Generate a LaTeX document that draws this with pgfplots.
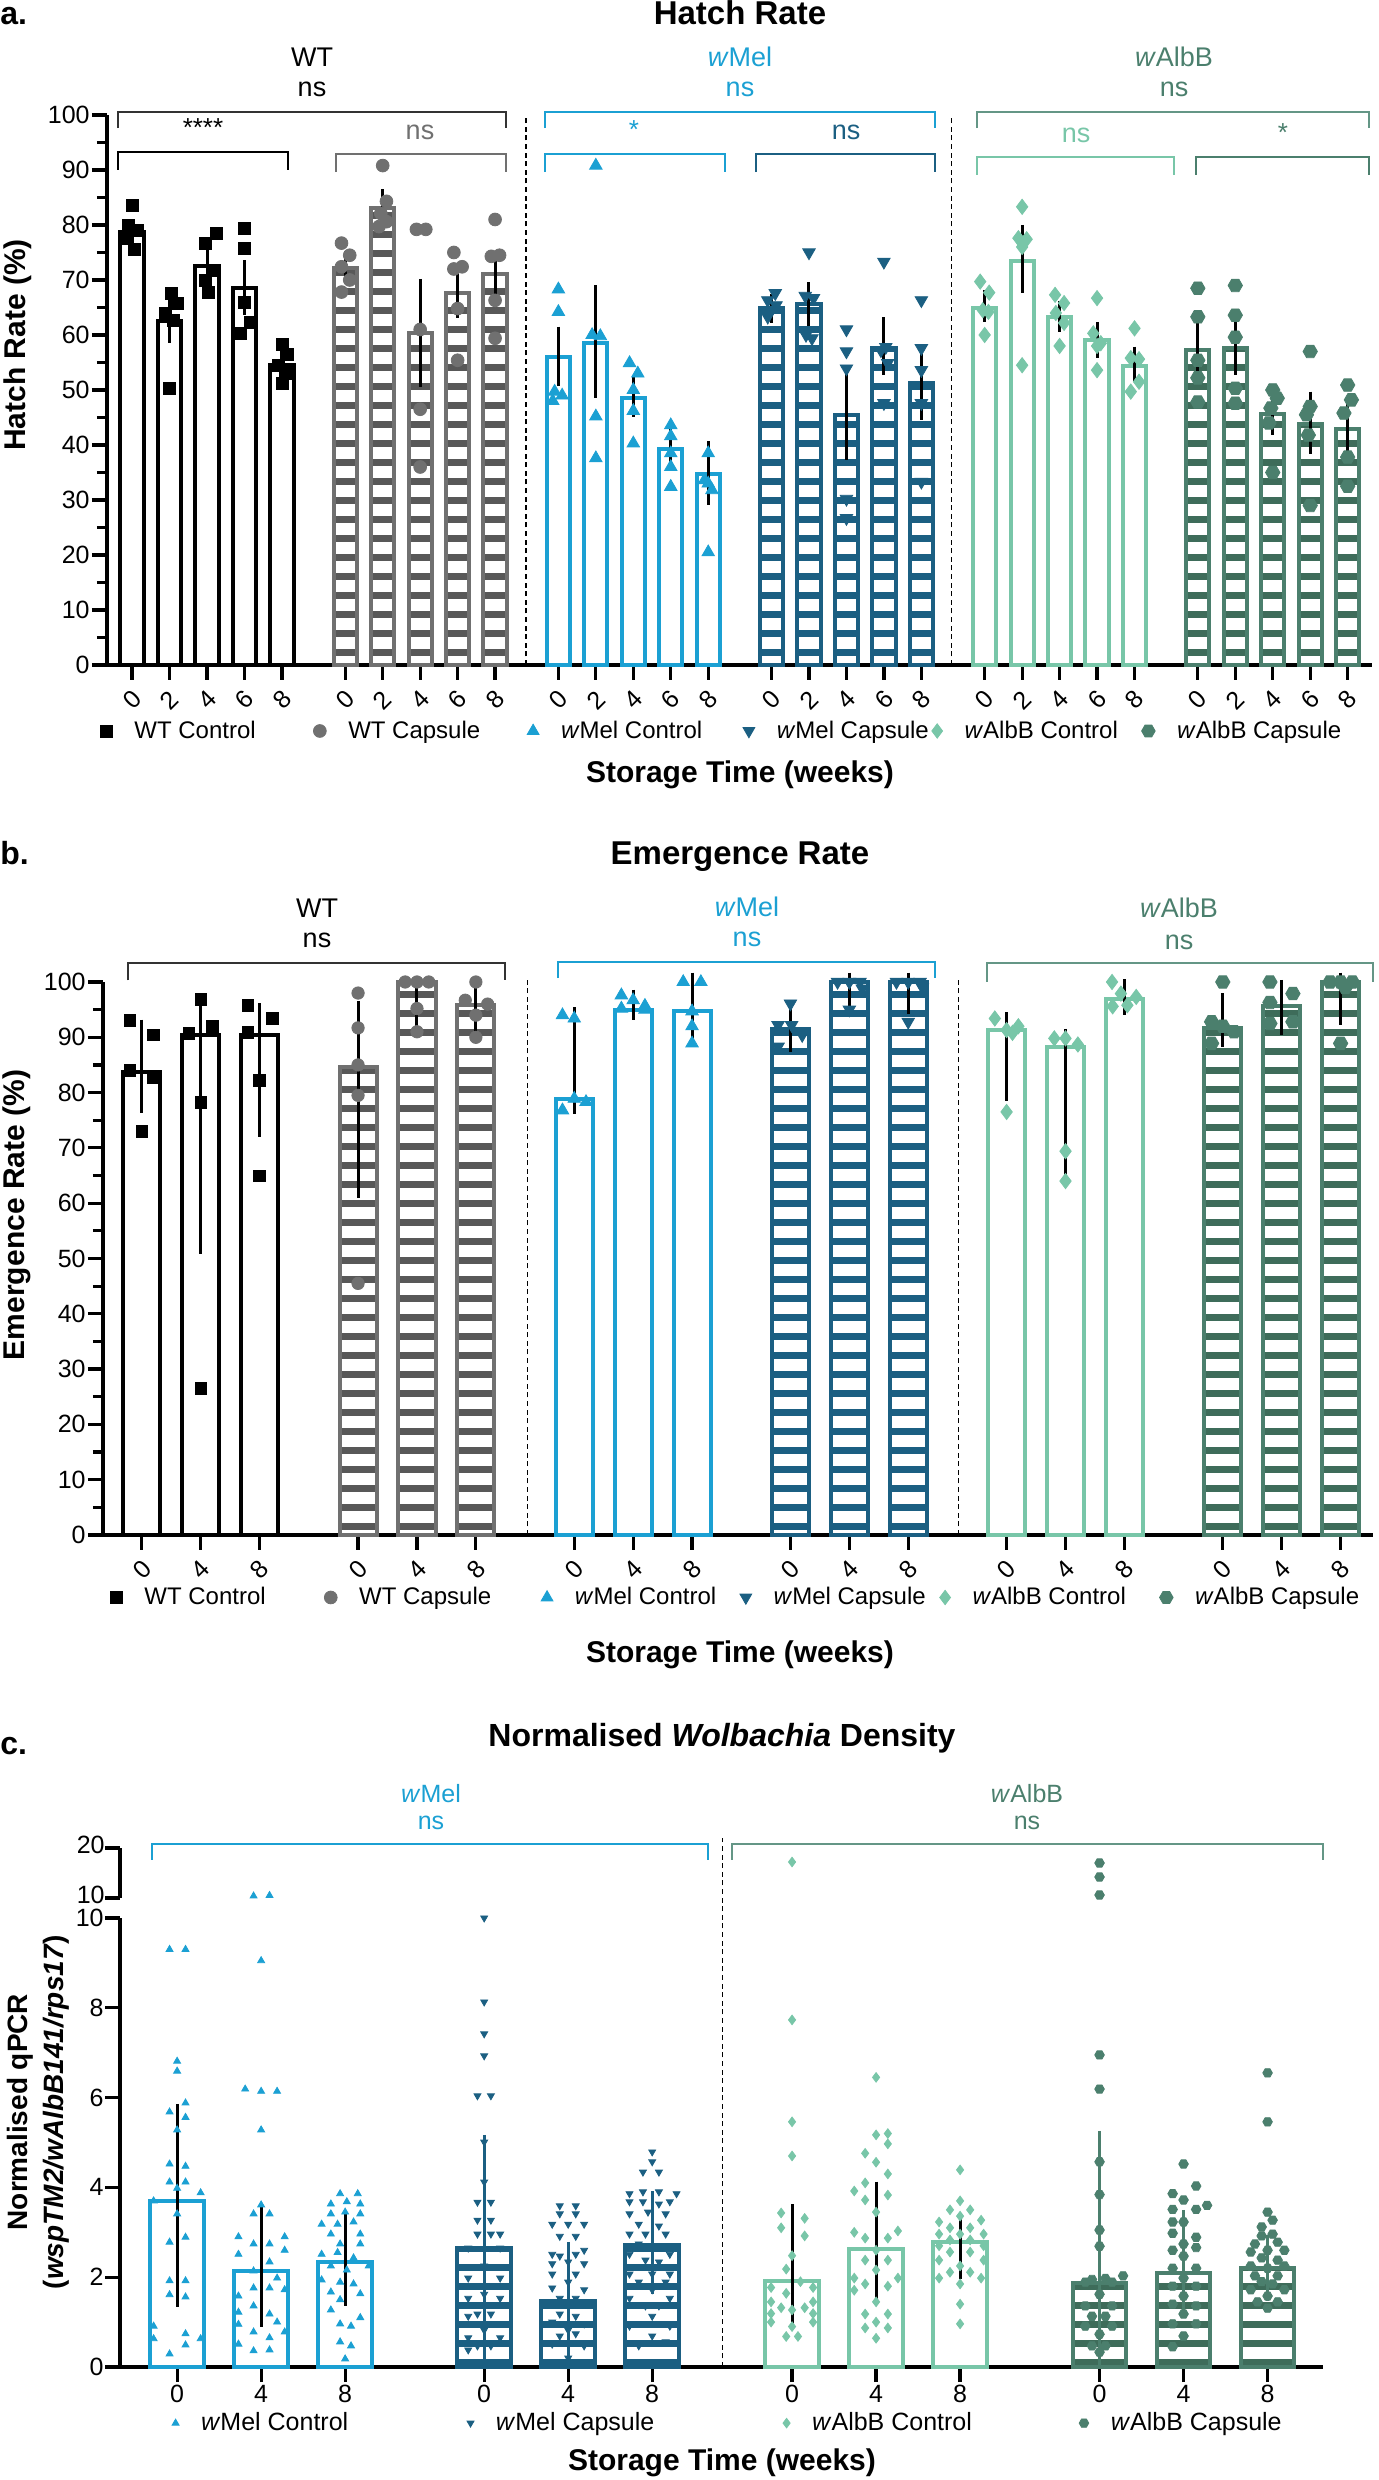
\documentclass[border=0pt]{standalone}
\usepackage{fontspec}
\setmainfont{Liberation Sans}
\usepackage{pgfplots}
\pgfplotsset{compat=1.18}
\usetikzlibrary{patterns}

\definecolor{wtcap}{RGB}{112,112,112}
\definecolor{wtcapd}{RGB}{88,88,88}
\definecolor{melc}{RGB}{27,160,211}
\definecolor{melcap}{RGB}{27,95,130}
\definecolor{albc}{RGB}{120,198,168}
\definecolor{albcap}{RGB}{75,127,109}
\definecolor{albcapd}{RGB}{62,108,90}
\definecolor{albtop}{RGB}{100,150,134}

\pgfdeclarepatternformonly{hstripes}{\pgfqpoint{-2pt}{0pt}}{\pgfqpoint{302pt}{9.5pt}}{\pgfqpoint{300pt}{9.5pt}}{%
  \pgfpathrectangle{\pgfqpoint{-2pt}{0pt}}{\pgfqpoint{304pt}{3.4pt}}%
  \pgfusepath{fill}}

\pgfdeclareplotmark{hexagon*}{%
  \pgfpathmoveto{\pgfqpointpolar{0}{\pgfplotmarksize}}%
  \pgfpathlineto{\pgfqpointpolar{60}{\pgfplotmarksize}}%
  \pgfpathlineto{\pgfqpointpolar{120}{\pgfplotmarksize}}%
  \pgfpathlineto{\pgfqpointpolar{180}{\pgfplotmarksize}}%
  \pgfpathlineto{\pgfqpointpolar{240}{\pgfplotmarksize}}%
  \pgfpathlineto{\pgfqpointpolar{300}{\pgfplotmarksize}}%
  \pgfpathclose
  \pgfusepathqfillstroke}

\newcommand{\fs}[1]{\fontsize{#1}{#1}\selectfont}
\newcommand{\w}{\textit{w}}

\pgfplotsset{
  gp/.style={
    scale only axis, anchor=south west, clip=false,
    axis x line=bottom, axis y line=left,
    axis line style={-, line width=2pt, black},
    tick align=outside,
    major tick length=7.5pt, minor tick length=5pt,
    tick style={line width=1.6pt, black},
    /pgf/number format/assume math mode=true,
    yticklabel style={font=\fs{12.5}, inner sep=1pt},
    xticklabel style={font=\fs{12.5}},
    legend style={draw=none, fill=none, inner sep=0pt, font=\fs{12}, legend columns=-1,
      nodes={inner sep=1pt}, /tikz/every odd column/.append style={column sep=10pt}},
    legend image code/.code={\draw[##1] plot coordinates {(0pt,0pt)};},
  },
  ctrlbar/.style={ybar, bar shift=0pt, forget plot, fill=white, draw=#1, line width=2pt},
  capbar/.style 2 args={ybar, bar shift=0pt, forget plot, fill=white, draw=#1, line width=2pt,
    postaction={pattern=hstripes, pattern color=#2}},
  pts/.style={only marks, forget plot, color=#1, mark options={solid, fill=#1, draw=#1}},
  errb/.style n args={3}{forget plot, draw=none, mark=none,
    error bars/y dir=both, error bars/y explicit,
    error bars/error bar style={draw=#1, line width=#2, solid},
    error bars/error mark options={draw=#1, line width=#2, mark size=#3, solid}},
}

\begin{document}
\begin{tikzpicture}
\path[use as bounding box] (0pt,0pt) rectangle (689pt,1240pt);

%================ PANEL A =================
\begin{axis}[gp, at={(53.5pt,907.5pt)}, width=632.5pt, height=275pt,
  xmin=-0.67, xmax=33.1, ymin=0, ymax=100,
  ytick={0,10,...,100}, minor y tick num=1,
  xtick={0,1,2,3,4,5.69,6.69,7.69,8.69,9.69,11.38,12.38,13.38,14.38,15.38,17.07,18.07,19.07,20.07,21.07,22.76,23.76,24.76,25.76,26.76,28.45,29.45,30.45,31.45,32.45},
  xticklabels={0,2,4,6,8,0,2,4,6,8,0,2,4,6,8,0,2,4,6,8,0,2,4,6,8,0,2,4,6,8},
  xticklabel style={yshift=-10pt, rotate=45, anchor=center},
  bar width=0.62,
  legend style={at={(-0.0055,-0.12)}, anchor=west},
]
\addplot[ctrlbar=black] coordinates {(0,78.7) (1,62.6) (2,72.6) (3,68.6) (4,54.5)};
\addplot[capbar={wtcap}{wtcapd}] coordinates {(5.69,72.2) (6.69,83.1) (7.69,60.3) (8.69,67.7) (9.69,71)};
\addplot[ctrlbar=melc] coordinates {(11.38,56) (12.38,58.5) (13.38,48.5) (14.38,39.2) (15.38,34.7)};
\addplot[capbar={melcap}{melcap}] coordinates {(17.07,64.9) (18.07,65.6) (19.07,45.5) (20.07,57.6) (21.07,51.2)};
\addplot[ctrlbar=albc] coordinates {(22.76,64.9) (23.76,73.5) (24.76,63.2) (25.76,59) (26.76,54.4)};
\addplot[capbar={albcap}{albcapd}] coordinates {(28.45,57.3) (29.45,57.6) (30.45,45.6) (31.45,43.8) (32.45,42.9)};

\addplot[pts=black, mark=square*, mark size=3pt] coordinates {
(0,83.5) (-0.1,80) (0.15,79) (-0.15,77.5) (0.05,75.5)
(1.05,67.6) (1.2,65.8) (0.9,64) (1.1,62.7) (1,50.3)
(2.25,78.5) (1.95,76.7) (2.15,71.8) (1.95,70) (2.05,67.8)
(3,79.4) (3,75.8) (3,66) (3.15,62.2) (2.9,60.3)
(4,58.2) (4.15,56.4) (3.9,54.5) (4.1,53) (4,51.2)};
\addplot[pts=wtcap, mark=*, mark size=3.2pt] coordinates {
(5.59,76.7) (5.81,74.5) (5.59,72.4) (5.81,70) (5.59,67.8)
(6.69,90.8) (6.79,84.3) (6.64,82.1) (6.79,80.6) (6.59,79.7)
(7.59,79.2) (7.84,79.2) (7.69,61) (7.69,46.5) (7.69,36)
(8.59,75) (8.81,72.4) (8.59,72) (8.69,64.8) (8.69,55.4)
(9.69,81) (9.81,74.5) (9.59,74.3) (9.69,66.3) (9.69,59.4)};
\addplot[pts=melc, mark=triangle*, mark size=3.6pt] coordinates {
(11.38,68.3) (11.38,64.2) (11.28,49.7) (11.48,49) (11.23,48)
(12.38,90.8) (12.28,60) (12.5,59.8) (12.38,45.2) (12.38,37.6)
(13.28,54.9) (13.5,53) (13.38,50) (13.38,46.2) (13.38,40.3)
(14.38,43.6) (14.38,41.6) (14.38,38.5) (14.38,36) (14.38,32.4)
(15.38,38.5) (15.28,33.6) (15.48,31.8) (15.38,33) (15.38,20.5)};
\addplot[pts=melcap, mark=triangle*, mark size=3.6pt, mark options={rotate=180}] coordinates {
(17.17,67.6) (16.97,66.3) (17.19,65.4) (17.02,64.5) (16.97,63.3)
(18.07,75) (17.97,67.1) (18.19,66.7) (17.99,60) (18.15,59.4)
(19.07,61) (19.07,57) (19.07,53.9) (19.07,30.2) (19.07,26.7)
(20.07,73.3) (20.12,57.8) (19.99,57.2) (20.17,54.9) (20.07,47.6)
(21.07,66.3) (21.07,57.6) (21.07,53.6) (21.07,47.6) (21.07,33.3)};
\addplot[pts=albc, mark=diamond*, mark size=3.8pt] coordinates {
(22.64,69.7) (22.88,67.7) (22.71,64.5) (22.86,64.2) (22.76,60)
(23.76,83.3) (23.66,77.6) (23.88,77.4) (23.76,76) (23.76,54.5)
(24.64,67.3) (24.88,65.8) (24.66,64) (24.88,62.2) (24.76,58)
(25.76,66.7) (25.66,60.3) (25.86,58.5) (25.76,58) (25.76,53.6)
(26.76,61.2) (26.66,55.8) (26.88,55.6) (26.88,51.5) (26.66,49.7)};
\addplot[pts=albcap, mark=hexagon*, mark size=3.6pt] coordinates {
(28.45,68.5) (28.45,63.3) (28.45,55.4) (28.45,52.2) (28.45,47.8)
(29.45,69) (29.45,63.6) (29.45,59.6) (29.45,50.3) (29.45,47.6)
(30.45,50) (30.57,48.5) (30.4,46.7) (30.35,44) (30.45,35)
(31.45,57) (31.45,47) (31.35,45.5) (31.4,41.8) (31.45,29)
(32.45,50.9) (32.55,48.2) (32.35,45.8) (32.45,37.8) (32.45,32.5)};

\addplot[errb={black}{1.5pt}{3.3pt}] table[x=x, y=lo, y error plus=d, y error minus=z, row sep=\\] {
x lo d z\\
0 77.4 2.4 0\\ 1 59.7 5.8 0\\ 2 70.4 4.5 0\\ 3 64.8 7.6 0\\ 4 52.6 3.9 0\\
5.69 70.4 3.6 0\\ 6.69 80.9 4.4 0\\ 7.69 51.8 17.2 0\\ 8.69 64.2 7.0 0\\ 9.69 68.4 5.2 0\\
11.38 52 8.3 0\\ 12.38 49.7 18.1 0\\ 13.38 46.2 5.0 0\\ 14.38 37.1 5.1 0\\ 15.38 30.2 9.3 0\\
17.07 63.3 3.0 0\\ 18.07 62.9 5.5 0\\ 19.07 38.5 14.2 0\\ 20.07 54 8.0 0\\ 21.07 45.8 11.2 0\\
22.76 63.6 3.3 0\\ 23.76 68.8 10.0 0\\ 24.76 61.8 3.2 0\\ 25.76 57 4.2 0\\ 26.76 52.7 4.0 0\\
28.45 54 7.2 0\\ 29.45 54 8.0 0\\ 30.45 43.1 5.7 0\\ 31.45 39.5 9.0 0\\ 32.45 40 6.4 0\\
};

\draw[dash pattern=on 2.5pt off 1.8pt, line width=0.7pt] (axis cs:10.52,0) -- (axis cs:10.52,100);
\draw[dash pattern=on 2.5pt off 1.8pt, line width=0.7pt] (axis cs:21.87,0) -- (axis cs:21.87,100);

\draw[line width=1pt, black!80] (axis cs:-0.37,97.6) -- (axis cs:-0.37,100.5) -- (axis cs:9.99,100.5) -- (axis cs:9.99,97.6);
\draw[line width=1pt, black] (axis cs:-0.37,90) -- (axis cs:-0.37,93.2) -- (axis cs:4.16,93.2) -- (axis cs:4.16,90);
\draw[line width=1pt, wtcap] (axis cs:5.43,89.6) -- (axis cs:5.43,92.9) -- (axis cs:9.99,92.9) -- (axis cs:9.99,89.6);
\draw[line width=1pt, melc] (axis cs:11.03,97.6) -- (axis cs:11.03,100.5) -- (axis cs:21.44,100.5) -- (axis cs:21.44,97.6);
\draw[line width=1pt, melc] (axis cs:11.03,89.6) -- (axis cs:11.03,92.9) -- (axis cs:15.83,92.9) -- (axis cs:15.83,89.6);
\draw[line width=1pt, melcap] (axis cs:16.66,89.6) -- (axis cs:16.66,92.9) -- (axis cs:21.44,92.9) -- (axis cs:21.44,89.6);
\draw[line width=1pt, albtop] (axis cs:22.56,97.6) -- (axis cs:22.56,100.5) -- (axis cs:33.03,100.5) -- (axis cs:33.03,97.6);
\draw[line width=1pt, albc] (axis cs:22.56,89.1) -- (axis cs:22.56,92.4) -- (axis cs:27.82,92.4) -- (axis cs:27.82,89.1);
\draw[line width=1pt, albcap] (axis cs:28.41,89.1) -- (axis cs:28.41,92.4) -- (axis cs:33.03,92.4) -- (axis cs:33.03,89.1);

\addlegendimage{black, mark=square*, mark size=3pt}
\addlegendentry{\makebox[88.5pt][l]{WT Control}}
\addlegendimage{wtcap, mark=*, mark size=3.2pt}
\addlegendentry{\makebox[88.5pt][l]{WT Capsule}}
\addlegendimage{melc, mark=triangle*, mark size=3.4pt}
\addlegendentry{\makebox[90pt][l]{\w Mel Control}}
\addlegendimage{melcap, mark=triangle*, mark size=3.4pt, mark options={rotate=180}}
\addlegendentry{\makebox[76.5pt][l]{\w Mel Capsule}}
\addlegendimage{albc, mark=diamond*, mark size=3.6pt}
\addlegendentry{\makebox[87.5pt][l]{\w AlbB Control}}
\addlegendimage{albcap, mark=hexagon*, mark size=3.4pt}
\addlegendentry{\w AlbB Capsule}
\end{axis}

%================ PANEL B =================
\begin{axis}[gp, at={(51.5pt,472.5pt)}, width=635pt, height=276.5pt,
  xmin=-0.66, xmax=20.9, ymin=0, ymax=100,
  ytick={0,10,...,100}, minor y tick num=1,
  xtick={0,1,2,3.67,4.67,5.67,7.34,8.34,9.34,11.01,12.01,13.01,14.68,15.68,16.68,18.35,19.35,20.35},
  xticklabels={0,4,8,0,4,8,0,4,8,0,4,8,0,4,8,0,4,8},
  xticklabel style={yshift=-10pt, rotate=45, anchor=center},
  bar width=0.63,
  legend style={at={(0.0055,-0.113)}, anchor=west},
]
\addplot[ctrlbar=black] coordinates {(0,83.7) (1,90.5) (2,90.5)};
\addplot[capbar={wtcap}{wtcapd}] coordinates {(3.67,84.6) (4.67,100) (5.67,95.8)};
\addplot[ctrlbar=melc] coordinates {(7.34,78.9) (8.34,95) (9.34,94.7)};
\addplot[capbar={melcap}{melcap}] coordinates {(11.01,91.5) (12.01,100) (13.01,100)};
\addplot[ctrlbar=albc] coordinates {(14.68,91.3) (15.68,88.3) (16.68,96.9)};
\addplot[capbar={albcap}{albcapd}] coordinates {(18.35,91.7) (19.35,95.7) (20.35,100)};

\addplot[pts=black, mark=square*, mark size=2.9pt] coordinates {
(-0.2,93.1) (0.2,90.4) (-0.2,84) (0.2,82.8) (0,73)
(1,96.8) (0.8,90.7) (1.2,92) (1,78.2) (1,26.5)
(1.8,95.8) (2.22,93.4) (1.8,90.9) (2,82.2) (2,64.9)};
\addplot[pts=wtcap, mark=*, mark size=3.1pt] coordinates {
(3.67,98) (3.67,91.7) (3.67,85) (3.67,79.5) (3.67,45.5)
(4.47,100) (4.67,100) (4.87,100) (4.67,95.2) (4.67,91)
(5.67,100) (5.49,96.7) (5.87,96) (5.67,94) (5.67,90)};
\addplot[pts=melc, mark=triangle*, mark size=3.6pt] coordinates {
(7.14,94) (7.34,93.4) (7.34,78.9) (7.54,78.3) (7.14,76.8)
(8.14,97.6) (8.34,96.7) (8.54,95.7) (8.14,95.2) (8.54,95.0)
(9.19,100) (9.49,100) (9.34,94.7) (9.34,92) (9.34,88.9)};
\addplot[pts=melcap, mark=triangle*, mark size=3.6pt, mark options={rotate=180}] coordinates {
(11.01,96.1) (10.8,92.2) (11.03,92.2) (11.21,90.4) (10.8,88.3)
(11.81,100) (12.01,100) (12.19,100) (12.23,98.8) (12.01,95)
(12.81,100) (13.01,100) (13.21,100) (13.25,99) (13.01,92.8)};
\addplot[pts=albc, mark=diamond*, mark size=3.8pt] coordinates {
(14.48,93.4) (14.88,92.0) (14.68,91.3) (14.78,90.8) (14.68,76.5)
(15.49,89.8) (15.68,89.8) (15.89,88.7) (15.68,69.4) (15.68,64)
(16.47,100) (16.62,97.9) (16.88,97.3) (16.73,95.8) (16.48,95.6)};
\addplot[pts=albcap, mark=hexagon*, mark size=3.6pt] coordinates {
(18.35,100) (18.16,92.8) (18.35,92) (18.54,91) (18.16,88.9)
(19.15,100) (19.54,97.9) (19.15,96.3) (19.54,92.8) (19.15,92.5)
(20.17,100) (20.35,100) (20.55,100) (20.43,99) (20.35,88.9)};

\addplot[errb={black}{1.5pt}{4.7pt}] table[x=x, y=lo, y error plus=d, y error minus=z, row sep=\\] {
x lo d z\\
0 78 13.5 0\\ 1 52.5 42 0\\ 2 73.6 20.9 0\\
3.67 62.7 32.2 0\\ 4.67 93 6.1 0\\ 5.67 91.9 6.5 0\\
7.34 77.9 15.8 0\\ 8.34 94.8 2.1 0\\ 9.34 90.5 9.5 0\\
11.01 89.1 4.7 0\\ 12.01 96.6 3.4 0\\ 13.01 96 4 0\\
14.68 80.1 12.7 0\\ 15.68 66.7 23.1 0\\ 16.68 95.8 3 0\\
18.35 90 6.3 0\\ 19.35 92.2 6.5 0\\ 20.35 94 6 0\\
};

\draw[dash pattern=on 2.5pt off 1.8pt, line width=0.7pt] (axis cs:6.55,0) -- (axis cs:6.55,100.7);
\draw[dash pattern=on 2.5pt off 1.8pt, line width=0.7pt] (axis cs:13.86,0) -- (axis cs:13.86,100.7);
\draw[line width=1pt, black!80] (axis cs:-0.24,100.3) -- (axis cs:-0.24,103.4) -- (axis cs:6.16,103.4) -- (axis cs:6.16,100.3);
\draw[line width=1pt, melc] (axis cs:7.06,100.7) -- (axis cs:7.06,103.7) -- (axis cs:13.47,103.7) -- (axis cs:13.47,100.7);
\draw[line width=1pt, albtop] (axis cs:14.35,100) -- (axis cs:14.35,103.4) -- (axis cs:20.9,103.4) -- (axis cs:20.9,100);

\addlegendimage{black, mark=square*, mark size=3pt}
\addlegendentry{\makebox[89pt][l]{WT Control}}
\addlegendimage{wtcap, mark=*, mark size=3.2pt}
\addlegendentry{\makebox[90pt][l]{WT Capsule}}
\addlegendimage{melc, mark=triangle*, mark size=3.4pt}
\addlegendentry{\makebox[81.5pt][l]{\w Mel Control}}
\addlegendimage{melcap, mark=triangle*, mark size=3.4pt, mark options={rotate=180}}
\addlegendentry{\makebox[82pt][l]{\w Mel Capsule}}
\addlegendimage{albc, mark=diamond*, mark size=3.6pt}
\addlegendentry{\makebox[92.5pt][l]{\w AlbB Control}}
\addlegendimage{albcap, mark=hexagon*, mark size=3.4pt}
\addlegendentry{\w AlbB Capsule}
\end{axis}

%================ PANEL C (lower) =================
\begin{axis}[gp, at={(60pt,56.5pt)}, width=601.5pt, height=224.5pt,
  xmin=-0.68, xmax=13.64, ymin=0, ymax=10,
  ytick={0,2,4,6,8,10},
  yticklabel style={inner sep=0.5pt},
  xtick={0,1,2,3.655,4.655,5.655,7.32,8.32,9.32,10.98,11.98,12.98},
  xticklabels={0,4,8,0,4,8,0,4,8,0,4,8},
  xticklabel style={anchor=north, inner sep=0pt, yshift=-1.5pt},
  bar width=0.64,
  legend style={at={(0.043,-0.125)}, anchor=west, font=\fs{12.5}},
]
\addplot[ctrlbar=melc] coordinates {(0,3.7) (1,2.14) (2,2.34)};
\addplot[capbar={melcap}{melcap}] coordinates {(3.655,2.65) (4.655,1.47) (5.655,2.72)};
\addplot[ctrlbar=albc] coordinates {(7.32,1.91) (8.32,2.62) (9.32,2.78)};
\addplot[capbar={albcap}{albcapd}] coordinates {(10.98,1.88) (11.98,2.1) (12.98,2.2)};

\addplot[pts=melc, mark=triangle*, mark size=2pt] coordinates {
(-0.09,9.3) (0.1,9.3) (0,6.81) (0,6.59) (0.1,5.88) (-0.09,5.68) (0.1,5.56) (0,5.28)
(-0.09,4.52) (0.1,4.47) (-0.09,4.12) (0.1,4.12) (0,3.98) (0.28,3.88) (-0.28,3.7) (0,3.41)
(0.1,2.89) (-0.09,2.78) (-0.09,1.92) (0.1,1.92) (-0.09,1.61) (0.1,1.56) (-0.28,0.91)
(-0.28,0.63) (0.28,0.63) (0.1,0.74) (0.1,0.49) (-0.09,0.29)
(1,9.05) (0.81,6.19) (1,6.14) (1.19,6.14) (1,5.28) (1,3.61) (0.91,3.41) (1.1,3.41)
(0.73,2.9) (1.28,2.9) (0.91,2.74) (1.1,2.74) (0.73,2.51) (1.28,2.6) (1.1,2.34) (0.91,2.14)
(1.19,1.98) (0.91,1.76) (1.1,1.76) (0.73,1.58) (1.28,1.72) (0.91,1.36) (1.1,1.18) (0.73,1.22)
(1.19,1.0) (0.73,0.95) (0.91,0.78) (1.28,0.78) (1.1,0.65) (0.73,0.51) (0.91,0.36) (1.1,0.38)
(1.94,3.86) (2.15,3.86) (1.83,3.63) (2.02,3.68) (2.18,3.63) (1.83,3.41) (2,3.45) (2.18,3.41)
(1.72,3.18) (1.91,3.18) (2.1,3.23) (1.83,2.96) (2.18,2.96) (1.94,2.74) (2.18,2.74) (1.72,2.51)
(1.91,2.55) (2.1,2.43) (1.83,2.25) (2.28,2.25) (2.02,2.16) (1.72,1.94) (1.94,1.89) (2.1,1.85)
(1.83,1.67) (2.18,1.63) (1.94,1.5) (1.83,1.27) (2.18,1.1) (1.94,0.96) (2.07,0.91) (1.94,0.56)
(2.07,0.47) (2,0.18)};
\addplot[pts=melcap, mark=triangle*, mark size=2pt, mark options={rotate=180}] coordinates {
(3.655,10.0) (3.655,8.13) (3.655,7.42) (3.655,6.93) (3.575,6.04) (3.735,6.04) (3.655,5.01)
(3.655,4.12) (3.575,3.67) (3.735,3.67) (3.575,3.27) (3.735,3.27) (3.575,2.96) (3.735,2.96)
(3.845,2.96) (3.465,2.65) (3.845,2.65) (3.655,2.25) (3.465,1.98) (3.845,1.98) (3.655,1.62)
(3.465,1.53) (3.845,1.53) (3.575,1.18) (3.735,1.18) (3.465,1.13) (3.655,0.82) (3.465,0.65)
(3.845,0.65) (3.575,0.47) (3.735,0.47) (3.465,0.38)
(4.555,3.59) (4.745,3.59) (4.555,3.41) (4.745,3.41) (4.465,3.18) (4.655,3.18) (4.845,3.18)
(4.555,2.91) (4.745,2.91) (4.465,2.51) (4.555,2.47) (4.745,2.51) (4.845,2.6) (4.465,2.3)
(4.655,2.34) (4.845,2.3) (4.465,2.07) (4.745,2.07) (4.655,1.89) (4.465,1.76) (4.845,1.72)
(4.555,1.53) (4.745,1.53) (4.465,1.4) (4.845,1.4) (4.555,1.18) (4.745,1.13) (4.465,1.0)
(4.845,0.96) (4.655,0.82) (4.555,0.69) (4.745,0.74) (4.465,0.51) (4.845,0.47) (4.655,0.2)
(5.655,4.79) (5.655,4.57) (5.545,4.34) (5.735,4.34) (5.385,3.86) (5.545,3.9) (5.735,3.9)
(5.945,3.86) (5.385,3.68) (5.545,3.68) (5.735,3.63) (5.865,3.68) (5.385,3.41) (5.605,3.45)
(5.815,3.41) (5.495,3.18) (5.735,3.14) (5.385,2.96) (5.575,2.96) (5.815,2.96) (5.495,2.74)
(5.735,2.69) (5.385,2.51) (5.865,2.51) (5.575,2.38) (5.735,2.34) (5.385,2.07) (5.655,2.07)
(5.865,2.07) (5.495,1.89) (5.815,1.89) (5.655,1.72) (5.385,1.53) (5.865,1.53) (5.575,1.36)
(5.735,1.36) (5.655,1.13) (5.385,0.91) (5.865,0.91) (5.655,0.69) (5.495,0.47) (5.815,0.56)};
\addplot[pts=albc, mark=diamond*, mark size=2.4pt] coordinates {
(7.32,7.73) (7.32,5.46) (7.32,4.7) (7.19,3.43) (7.47,3.31) (7.19,3.1) (7.47,2.92) (7.32,2.48)
(7.25,2.18) (7.42,1.9) (7.07,1.77) (7.57,1.77) (7.25,1.64) (7.07,1.45) (7.57,1.45) (7.19,1.32)
(7.47,1.32) (7.32,1.27) (7.07,1.19) (7.57,1.19) (7.07,1.0) (7.57,1.0) (7.32,0.9) (7.25,0.68)
(7.39,0.68)
(8.32,6.45) (8.32,5.17) (8.46,5.2) (8.46,4.97) (8.19,4.76) (8.32,4.56) (8.46,4.3) (8.19,4.1)
(8.06,3.92) (8.46,3.83) (8.19,3.72) (8.32,3.45) (8.06,3.0) (8.58,3.03) (8.19,2.87) (8.46,2.87)
(8.32,2.6) (8.19,2.38) (8.46,2.38) (8.32,2.16) (8.06,1.98) (8.58,1.98) (8.19,1.85) (8.46,1.8)
(8.06,1.71) (8.32,1.45) (8.19,1.18) (8.46,1.18) (8.32,1.0) (8.19,0.87) (8.46,0.87) (8.32,0.64)
(9.32,4.39) (9.32,3.7) (9.2,3.5) (9.44,3.5) (9.07,3.23) (9.32,3.36) (9.57,3.27) (9.2,3.1)
(9.44,3.1) (9.07,2.96) (9.32,2.96) (9.6,2.96) (9.2,2.83) (9.44,2.83) (9.07,2.7) (9.6,2.7)
(9.2,2.56) (9.44,2.56) (9.07,2.38) (9.6,2.38) (9.32,2.25) (9.2,2.11) (9.44,2.11) (9.07,1.98)
(9.57,1.98) (9.32,1.85) (9.32,1.4) (9.32,0.96)};
\addplot[pts=albcap, mark=hexagon*, mark size=2.4pt] coordinates {
(10.98,6.95) (10.98,6.19) (10.98,4.57) (10.98,3.84) (10.98,3.05) (10.98,2.69) (10.81,1.89)
(11.13,1.89) (11.26,2.03) (10.89,1.95) (11.05,1.97) (10.98,1.62) (10.81,1.36) (11.13,1.36)
(10.89,1.13) (11.05,1.13) (10.81,0.91) (11.13,0.91) (10.98,0.73) (10.89,0.47) (11.05,0.47)
(10.98,0.33)
(11.98,4.52) (12.13,4.03) (11.85,3.86) (11.98,3.72) (12.26,3.6) (11.85,3.51) (12.13,3.51)
(11.85,3.23) (11.98,3.23) (11.85,2.98) (12.13,2.89) (11.98,2.74) (11.85,2.6) (12.13,2.66)
(11.98,2.47) (11.85,2.2) (12.13,2.2) (11.98,1.98) (11.85,1.8) (12.13,1.8) (11.98,1.58)
(11.85,1.4) (12.13,1.36) (11.98,1.18) (11.85,0.96) (12.13,0.96) (11.98,0.69) (11.85,0.45)
(12.98,6.55) (12.98,5.46) (12.98,3.45) (12.91,3.12) (13.04,3.27) (12.91,2.92) (13.04,2.96)
(12.83,2.74) (13.1,2.78) (12.78,2.56) (12.98,2.6) (13.18,2.6) (12.91,2.43) (13.1,2.38)
(12.78,2.25) (12.98,2.2) (13.18,2.25) (12.83,2.03) (13.1,2.03) (12.91,1.9) (13.04,1.85)
(12.78,1.72) (13.18,1.72) (12.98,1.58) (12.86,1.45) (13.1,1.45) (12.98,1.31)};

\addplot[errb={black}{1.5pt}{6.5pt}] table[x=x, y=lo, y error plus=d, y error minus=z, row sep=\\] {
x lo d z\\
0 1.63 3.94 0\\ 1 1.18 2.17 0\\ 2 1.64 1.52 0\\
7.32 1.25 2.09 0\\ 8.32 1.71 2.13 0\\ 9.32 2.25 0.89 0\\
};
\addplot[errb={melcap}{1.5pt}{6.5pt}] table[x=x, y=lo, y error plus=d, y error minus=z, row sep=\\] {
x lo d z\\
3.655 0.45 4.43 0\\ 4.655 0.45 2.05 0\\ 5.655 1.92 1.71 0\\
};
\addplot[errb={albcap}{1.5pt}{6.5pt}] table[x=x, y=lo, y error plus=d, y error minus=z, row sep=\\] {
x lo d z\\
10.98 0.3 4.67 0\\ 11.98 1.47 1.74 0\\ 12.98 1.75 0.9 0\\
};

\draw[dash pattern=on 2.5pt off 1.8pt, line width=0.7pt] (axis cs:6.49,0) -- (axis cs:6.49,11.78);

\addlegendimage{melc, mark=triangle*, mark size=2pt}
\addlegendentry{\makebox[132pt][l]{\w Mel Control}}
\addlegendimage{melcap, mark=triangle*, mark size=2pt, mark options={rotate=180}}
\addlegendentry{\makebox[142.5pt][l]{\w Mel Capsule}}
\addlegendimage{albc, mark=diamond*, mark size=2.4pt}
\addlegendentry{\makebox[132.5pt][l]{\w AlbB Control}}
\addlegendimage{albcap, mark=hexagon*, mark size=2.4pt}
\addlegendentry{\w AlbB Capsule}
\end{axis}

%================ PANEL C (upper) =================
\begin{axis}[gp, at={(60pt,291pt)}, width=601.5pt, height=25pt,
  xmin=-0.68, xmax=13.64, ymin=10, ymax=20,
  axis x line=none, xtick=\empty, ytick={10,20},
  yticklabel style={inner sep=0pt, yshift=1.5pt},
]
\addplot[pts=melc, mark=triangle*, mark size=2pt] coordinates {(0.91,10.4) (1.1,10.5)};
\addplot[pts=albc, mark=diamond*, mark size=2.4pt] coordinates {(7.32,17.2)};
\addplot[pts=albcap, mark=hexagon*, mark size=2.4pt] coordinates {(10.98,17.0) (10.98,14.2) (10.98,10.6)};
\draw[line width=1pt, melc] (axis cs:-0.3,17.6) -- (axis cs:-0.3,20.8) -- (axis cs:6.32,20.8) -- (axis cs:6.32,17.6);
\draw[line width=1pt, albtop] (axis cs:6.61,17.6) -- (axis cs:6.61,20.8) -- (axis cs:13.64,20.8) -- (axis cs:13.64,17.6);
\end{axis}

%================ TEXT =================
% panel a
\node[anchor=base west, inner sep=0pt, font=\fs{16}\bfseries] at (0pt,1227.5pt) {a.};
\node[anchor=base, inner sep=0pt, font=\fs{16.5}\bfseries] at (370pt,1227.5pt) {Hatch Rate};
\node[anchor=base, inner sep=0pt, font=\fs{13.5}] at (156pt,1206.5pt) {WT};
\node[anchor=base, inner sep=0pt, font=\fs{13.5}] at (156pt,1191.5pt) {ns};
\node[anchor=base, inner sep=0pt, font=\fs{13.5}, text=melc] at (370pt,1206.5pt) {\w Mel};
\node[anchor=base, inner sep=0pt, font=\fs{13.5}, text=melc] at (370pt,1191.5pt) {ns};
\node[anchor=base, inner sep=0pt, font=\fs{13.5}, text=albcap] at (587pt,1206.5pt) {\w AlbB};
\node[anchor=base, inner sep=0pt, font=\fs{13.5}, text=albcap] at (587pt,1191.5pt) {ns};
\node[anchor=north, inner sep=0pt, font=\fs{13}] at (101.5pt,1181pt) {****};
\node[anchor=base, inner sep=0pt, font=\fs{13.5}, text=wtcap] at (210pt,1170pt) {ns};
\node[anchor=north, inner sep=0pt, font=\fs{13}, text=melc] at (317pt,1180pt) {*};
\node[anchor=base, inner sep=0pt, font=\fs{13.5}, text=melcap] at (423pt,1170pt) {ns};
\node[anchor=base, inner sep=0pt, font=\fs{13.5}, text=albc] at (538pt,1168.5pt) {ns};
\node[anchor=north, inner sep=0pt, font=\fs{13}, text=albcap] at (641.5pt,1178.5pt) {*};
\node[rotate=90, inner sep=0pt, font=\fs{15}\bfseries] at (9pt,1067.5pt) {Hatch Rate (\%)};
\node[anchor=base, inner sep=0pt, font=\fs{15}\bfseries] at (370pt,848.5pt) {Storage Time (weeks)};
% panel b
\node[anchor=base west, inner sep=0pt, font=\fs{16}\bfseries] at (0pt,807.5pt) {b.};
\node[anchor=base, inner sep=0pt, font=\fs{16.5}\bfseries] at (370pt,807.5pt) {Emergence Rate};
\node[anchor=base, inner sep=0pt, font=\fs{13.5}] at (158.5pt,781pt) {WT};
\node[anchor=base, inner sep=0pt, font=\fs{13.5}] at (158.5pt,766pt) {ns};
\node[anchor=base, inner sep=0pt, font=\fs{13.5}, text=melc] at (373.5pt,781.5pt) {\w Mel};
\node[anchor=base, inner sep=0pt, font=\fs{13.5}, text=melc] at (373.5pt,766.5pt) {ns};
\node[anchor=base, inner sep=0pt, font=\fs{13.5}, text=albcap] at (589.5pt,781pt) {\w AlbB};
\node[anchor=base, inner sep=0pt, font=\fs{13.5}, text=albcap] at (589.5pt,765pt) {ns};
\node[rotate=90, inner sep=0pt, font=\fs{15}\bfseries] at (8.5pt,632.5pt) {Emergence Rate (\%)};
\node[anchor=base, inner sep=0pt, font=\fs{15}\bfseries] at (370pt,408.5pt) {Storage Time (weeks)};
% panel c
\node[anchor=base west, inner sep=0pt, font=\fs{16}\bfseries] at (0pt,362.5pt) {c.};
\node[anchor=base, inner sep=0pt, font=\fs{16}\bfseries] at (361pt,366.5pt) {Normalised \textit{Wolbachia} Density};
\node[anchor=base, inner sep=0pt, font=\fs{12.5}, text=melc] at (215.5pt,338.5pt) {\w Mel};
\node[anchor=base, inner sep=0pt, font=\fs{12.5}, text=melc] at (215.5pt,325pt) {ns};
\node[anchor=base, inner sep=0pt, font=\fs{12.5}, text=albcap] at (513.5pt,338.5pt) {\w AlbB};
\node[anchor=base, inner sep=0pt, font=\fs{12.5}, text=albcap] at (513.5pt,325pt) {ns};
\node[rotate=90, inner sep=0pt, align=center, font=\fontsize{14}{18}\selectfont\bfseries] at (19pt,184pt) {Normalised qPCR\\(\textit{wspTM2/wAlbB141/rps17})};
\node[anchor=base, inner sep=0pt, font=\fs{15}\bfseries] at (361pt,5pt) {Storage Time (weeks)};
\end{tikzpicture}
\end{document}
